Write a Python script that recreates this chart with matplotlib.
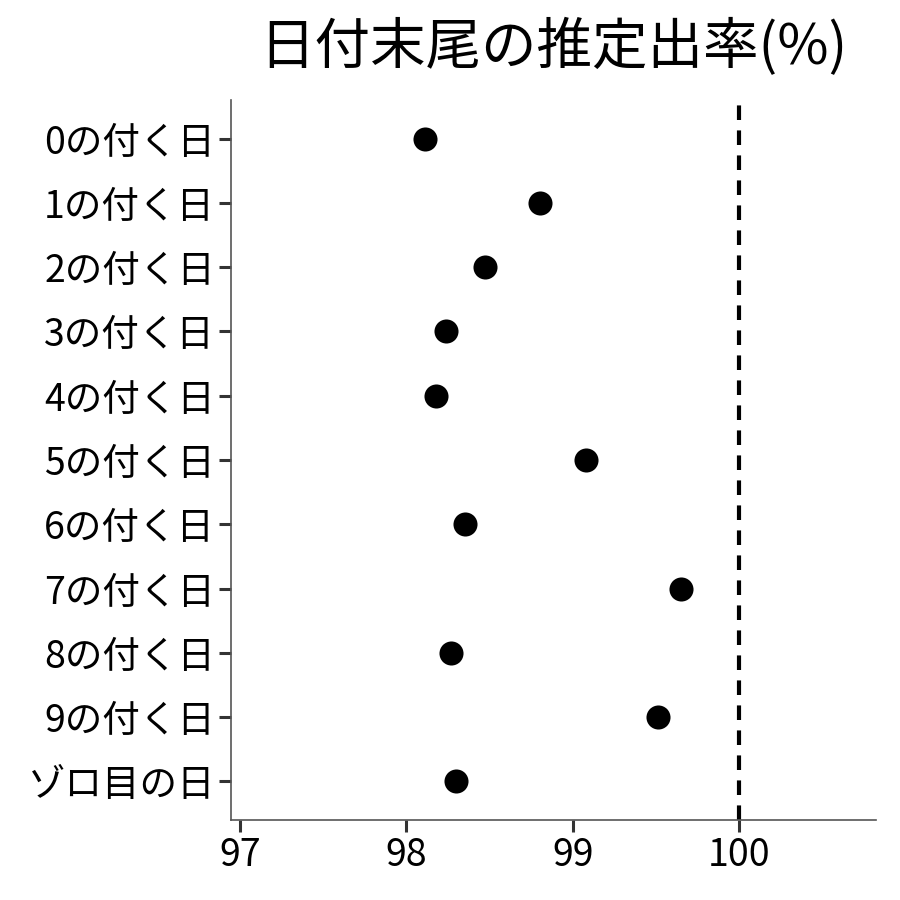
import numpy as np
import matplotlib.pyplot as plt

plt.rcParams['font.family'] = ['Noto Sans CJK JP', 'DejaVu Sans']

# data
labels = ['0の付く日', '1の付く日', '2の付く日', '3の付く日', '4の付く日',
          '5の付く日', '6の付く日', '7の付く日', '8の付く日', '9の付く日', 'ゾロ目の日']
rates = [98.11, 98.80, 98.47, 98.24, 98.18, 99.08, 98.35, 99.65, 98.27, 99.51, 98.30]
xticks = [97, 98, 99, 100]

fig = plt.figure(figsize=(9, 9), dpi=100)
ax = fig.add_axes([231/900, 80/900, 645/900, 720/900])

ypos = np.arange(len(labels))[::-1] + 1
ax.scatter(rates, ypos, s=300, color='black', zorder=3, linewidths=0)
ax.axvline(100, color='black', linestyle=(0, (3.5, 2.5)), linewidth=3)

ax.set_xlim(96.946, 100.82)
ax.set_ylim(0.4, len(labels) + 0.6)
ax.set_xticks(xticks)
ax.set_xticklabels([str(t) for t in xticks])
ax.set_yticks(ypos)
ax.set_yticklabels(labels)

for s in ['top', 'right']:
    ax.spines[s].set_visible(False)
for s in ['left', 'bottom']:
    ax.spines[s].set_color('#555555')
    ax.spines[s].set_linewidth(1.2)
ax.tick_params(axis='both', length=8.5, width=2.2, color='#333333',
               labelsize=27, labelcolor='black', pad=3)

ax.set_title('日付末尾の推定出率(%)', fontsize=40, pad=26)

fig.savefig('out.png', dpi=100)
